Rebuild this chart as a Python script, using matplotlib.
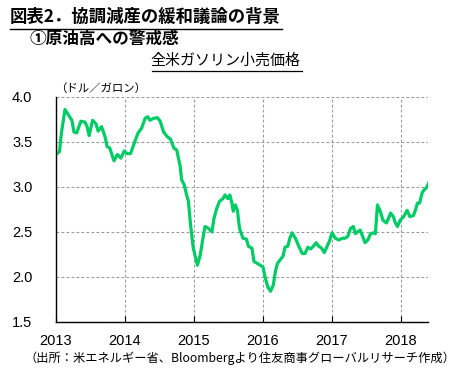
import matplotlib
matplotlib.use("Agg")
from matplotlib import pyplot as plt

# weekly-ish readings of US retail gasoline price (USD/gallon), x in decimal years
years = [2013.01, 2013.05, 2013.08, 2013.13, 2013.18, 2013.23, 2013.26, 2013.30, 2013.36,
         2013.42, 2013.45, 2013.48, 2013.53, 2013.58, 2013.61, 2013.66, 2013.71, 2013.74,
         2013.78, 2013.84, 2013.89, 2013.94, 2013.99, 2014.03, 2014.08, 2014.15, 2014.19,
         2014.24, 2014.29, 2014.33, 2014.36, 2014.41, 2014.47, 2014.51, 2014.56, 2014.61,
         2014.66, 2014.71, 2014.75, 2014.80, 2014.82, 2014.86, 2014.90, 2014.92, 2014.95,
         2014.99, 2015.05, 2015.09, 2015.13, 2015.16, 2015.21, 2015.26, 2015.29, 2015.33,
         2015.37, 2015.42, 2015.45, 2015.49, 2015.52, 2015.55, 2015.57, 2015.60, 2015.63,
         2015.66, 2015.71, 2015.76, 2015.79, 2015.84, 2015.87, 2015.92, 2015.96, 2016.00,
         2016.03, 2016.07, 2016.11, 2016.15, 2016.18, 2016.21, 2016.25, 2016.29, 2016.32,
         2016.36, 2016.39, 2016.42, 2016.47, 2016.52, 2016.57, 2016.61, 2016.65, 2016.69,
         2016.73, 2016.77, 2016.81, 2016.85, 2016.89, 2016.93, 2016.97, 2017.00, 2017.05,
         2017.10, 2017.15, 2017.19, 2017.23, 2017.27, 2017.31, 2017.34, 2017.37, 2017.41,
         2017.45, 2017.48, 2017.52, 2017.56, 2017.60, 2017.63, 2017.66, 2017.70, 2017.74,
         2017.79, 2017.82, 2017.85, 2017.89, 2017.92, 2017.95, 2017.99, 2018.04, 2018.09,
         2018.13, 2018.18, 2018.21, 2018.24, 2018.27, 2018.31, 2018.34, 2018.37, 2018.40]
price = [3.37, 3.39, 3.61, 3.86, 3.80, 3.74, 3.61, 3.60, 3.73,
         3.72, 3.67, 3.57, 3.74, 3.70, 3.62, 3.67, 3.56, 3.45,
         3.43, 3.29, 3.36, 3.32, 3.40, 3.37, 3.37, 3.52, 3.60,
         3.65, 3.76, 3.78, 3.74, 3.76, 3.77, 3.73, 3.61, 3.56,
         3.53, 3.43, 3.41, 3.23, 3.08, 3.02, 2.89, 2.84, 2.58,
         2.32, 2.13, 2.24, 2.43, 2.56, 2.54, 2.50, 2.65, 2.76,
         2.84, 2.87, 2.91, 2.87, 2.91, 2.82, 2.73, 2.80, 2.74,
         2.54, 2.43, 2.42, 2.34, 2.32, 2.17, 2.15, 2.13, 2.11,
         2.00, 1.89, 1.84, 1.91, 2.06, 2.15, 2.19, 2.23, 2.33,
         2.34, 2.43, 2.49, 2.43, 2.34, 2.26, 2.26, 2.33, 2.31,
         2.34, 2.38, 2.34, 2.32, 2.27, 2.34, 2.41, 2.49, 2.43,
         2.41, 2.43, 2.43, 2.45, 2.54, 2.56, 2.48, 2.50, 2.52,
         2.44, 2.38, 2.41, 2.48, 2.49, 2.48, 2.80, 2.73, 2.63,
         2.60, 2.65, 2.71, 2.67, 2.60, 2.56, 2.63, 2.67, 2.74,
         2.67, 2.68, 2.74, 2.82, 2.82, 2.94, 2.97, 2.99, 3.04]

year_ticks = [2013, 2014, 2015, 2016, 2017, 2018]
price_ticks = [1.5, 2.0, 2.5, 3.0, 3.5, 4.0]

jp = ["Noto Sans CJK JP", "DejaVu Sans"]
num = ["Liberation Sans", "DejaVu Sans"]

fig = plt.figure(figsize=(4.61, 3.77), dpi=100)
ax = fig.add_axes([0.1215, 0.146, 0.808, 0.597])

ax.plot(years, price, color="#00cc66", linewidth=2.3, solid_joinstyle="round")

ax.set_xlim(2013, 2018.40)
ax.set_ylim(1.5, 4.0)
ax.set_xticks(year_ticks)
ax.set_xticklabels([str(y) for y in year_ticks], family=num, fontsize=10.5)
ax.set_yticks(price_ticks)
ax.set_yticklabels([f"{p:.1f}" for p in price_ticks], family=num, fontsize=10.5)
ax.tick_params(axis="x", direction="in", length=4, pad=9)
ax.tick_params(axis="y", length=0, pad=17)

ax.grid(True, color="#999999", linestyle=(0, (2.5, 2)), linewidth=0.8)
for s in ["top", "right"]:
    ax.spines[s].set_visible(False)
for s in ["left", "bottom"]:
    ax.spines[s].set_linewidth(1.0)

# titles
fig.text(0.022, 0.955, "図表2．協調減産の緩和議論の背景", family=jp, fontsize=12.5,
         fontweight="bold", va="center", ha="left")
fig.add_artist(plt.Line2D([0.022, 0.612], [0.922, 0.922], color="black", linewidth=1.0))
fig.text(0.065, 0.898, "①原油高への警戒感", family=jp, fontsize=12,
         fontweight="bold", va="center", ha="left")
fig.text(0.49, 0.84, "全米ガソリン小売価格", family=jp, fontsize=10.8,
         va="center", ha="center")
fig.add_artist(plt.Line2D([0.33, 0.655], [0.812, 0.812], color="black", linewidth=0.9))
fig.text(0.119, 0.764, "（ドル／ガロン）", family=jp, fontsize=8.2, va="center", ha="left")
fig.text(0.988, 0.05, "（出所：米エネルギー省、Bloombergより住友商事グローバルリサーチ作成）",
         family=jp, fontsize=8.8, va="center", ha="right")

fig.savefig("out.png", dpi=100)
